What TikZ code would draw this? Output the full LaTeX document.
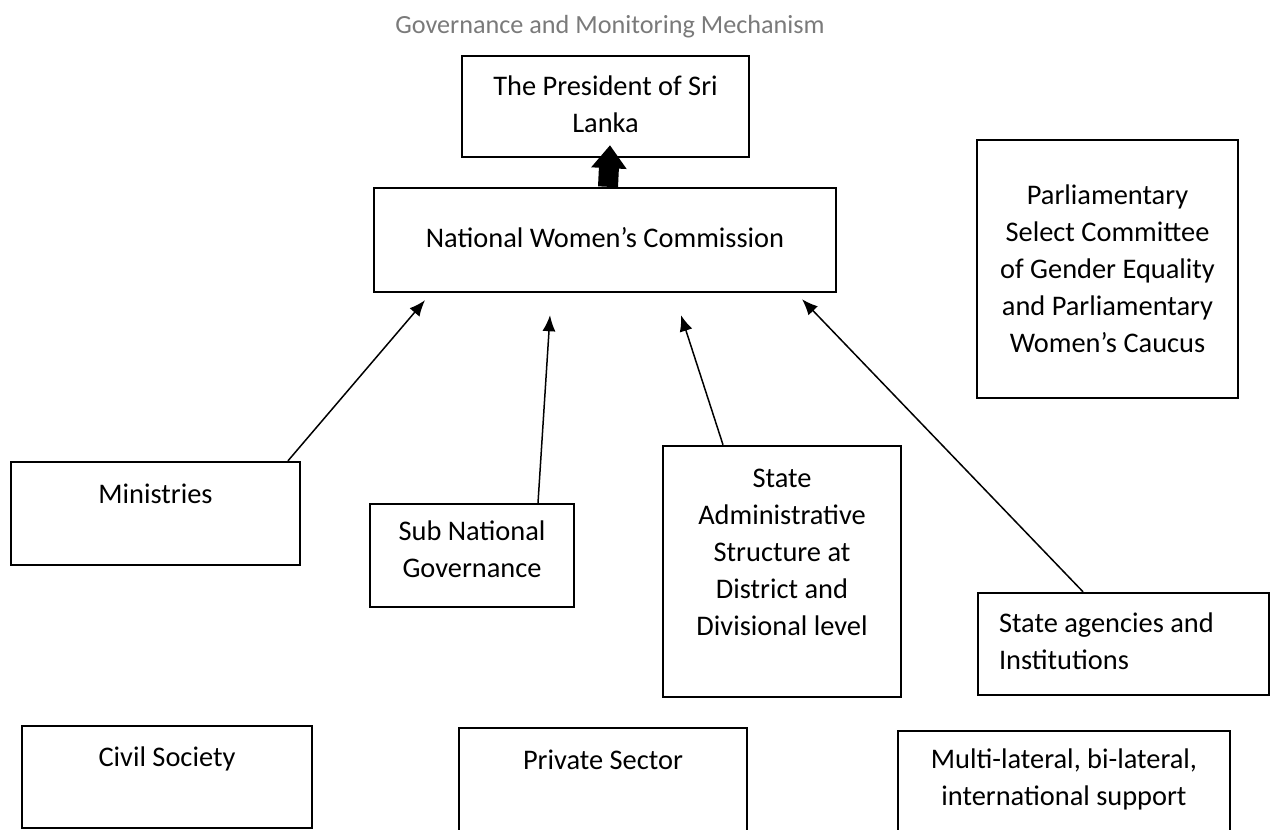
\documentclass[tikz,border=0pt]{standalone}
\usepackage{fontspec}
\setmainfont{Carlito}
\usetikzlibrary{arrows.meta,calc}
\newcommand{\boxtext}[4]{\parbox[c][\dimexpr#2pt/2\relax][t]{\dimexpr#1pt/2\relax}{\centering\vspace*{\dimexpr#3pt/2\relax}\strut#4}}
\newcommand{\boxtextl}[5]{\parbox[c][\dimexpr#2pt/2\relax][t]{\dimexpr#1pt/2\relax}{\raggedright\leftskip=\dimexpr#4pt/2\relax\vspace*{\dimexpr#3pt/2\relax}\strut#5}}
\begin{document}
\begin{tikzpicture}[x=0.5pt,y=-0.5pt]
\tikzstyle{every node}+=[inner sep=0pt,font=\fontsize{14.2pt}{18.5pt}\selectfont]
\tikzstyle{box}=[draw,line width=1.2pt]
\tikzstyle{link}=[line width=0.75pt,-{Latex[length=8pt,width=6.5pt]}]
\clip (0,0) rectangle (1277,829);
\node[text=black!52,font=\fontsize{13.1pt}{16pt}\selectfont] (ttl) at (610,27) {Governance and Monitoring Mechanism};
\node[box] (pres) at (605.5,106.5) {\boxtext{287}{101}{14}{The President of Sri\\Lanka}};
\node[box] (nwc) at (605,240) {\boxtext{462}{104}{34}{National Women’s Commission}};
\node[box] (parl) at (1107.5,269) {\boxtext{261}{258}{39}{Parliamentary\\Select Committee\\of Gender Equality\\and Parliamentary\\Women’s Caucus}};
\node[box] (min) at (155.5,513.5) {\boxtext{289}{103}{16}{Ministries}};
\node[box] (sub) at (472,555.5) {\boxtext{204}{103}{11}{Sub National\\Governance}};
\node[box] (adm) at (782,571.5) {\boxtext{238}{251}{16}{State\\Administrative\\Structure at\\District and\\Divisional level}};
\node[box] (agen) at (1123.5,644) {\boxtextl{291}{102}{14}{21}{State agencies and\\Institutions}};
\node[box] (civ) at (167,777) {\boxtext{290}{102}{15}{Civil Society}};
\node[box] (priv) at (603,784) {\boxtext{288}{112}{16}{Private Sector}};
\node[box] (mult) at (1064,785.5) {\boxtext{332}{109}{12}{Multi-lateral, bi-lateral,\\international support}};
\draw[line width=10pt,-{Triangle[length=11.5pt,width=17pt]}] ($(nwc.north)+(3,0)$) -- ($(pres.south)+(4.5,-13)$);
\draw[link] ($(min.north)+(132.5,0)$) -- ($(nwc.south)+(-180,7)$);
\draw[link] ($(sub.north)+(66,0)$) -- ($(nwc.south)+(-55,22)$);
\draw[link] ($(adm.north)+(-59,0)$) -- ($(nwc.south)+(76,22)$);
\draw[link] ($(agen.north)+(-40.5,0)$) -- ($(nwc.south)+(197,6)$);
\end{tikzpicture}
\end{document}
